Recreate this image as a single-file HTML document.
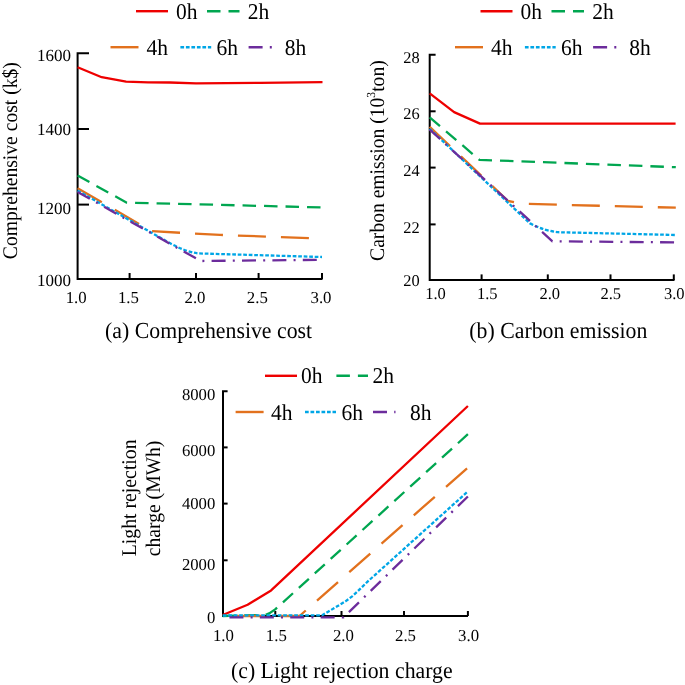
<!DOCTYPE html>
<html><head><meta charset="utf-8"><style>
html,body{margin:0;padding:0;background:#fff;width:685px;height:685px;overflow:hidden}
svg{display:block;will-change:transform}
text{font-family:"Liberation Serif",serif;fill:#000;text-rendering:geometricPrecision}
</style></head><body>
<svg width="685" height="685" viewBox="0 0 685 685">
<rect width="685" height="685" fill="#fff"/>
<path d="M89,53.2 H77.6 V279 H322.5" fill="none" stroke="#000" stroke-width="2"/>
<path d="M77.6,129 H89" stroke="#000" stroke-width="2"/>
<path d="M77.6,204.6 H89" stroke="#000" stroke-width="2"/>
<path d="M129.6,279 V273" stroke="#000" stroke-width="2"/>
<path d="M196,279 V273" stroke="#000" stroke-width="2"/>
<path d="M258.6,279 V273" stroke="#000" stroke-width="2"/>
<path d="M322,279 V273" stroke="#000" stroke-width="2"/>
<text x="71.0" y="61.0" font-size="17" text-anchor="end" >1600</text>
<text x="71.0" y="135.2" font-size="17" text-anchor="end" >1400</text>
<text x="71.0" y="213.9" font-size="17" text-anchor="end" >1200</text>
<text x="71.0" y="286.3" font-size="17" text-anchor="end" >1000</text>
<text x="76.2" y="302.7" font-size="16.8" text-anchor="middle" >1.0</text>
<text x="128.4" y="302.7" font-size="16.8" text-anchor="middle" >1.5</text>
<text x="195.0" y="302.7" font-size="16.8" text-anchor="middle" >2.0</text>
<text x="257.3" y="302.7" font-size="16.8" text-anchor="middle" >2.5</text>
<text x="321.0" y="302.7" font-size="16.8" text-anchor="middle" >3.0</text>
<text transform="translate(16.6,160.7) rotate(-90) scale(1,1.06)" font-size="19.6" text-anchor="middle">Comprehensive cost (k$)</text>
<text transform="translate(208.6,337.8) scale(1.0,1.05)" font-size="21.8" text-anchor="middle" >(a) Comprehensive cost</text>
<path d="M77.6,67.3 L101.7,77.2 L126.1,81.6 L148,82.3 L170,82.5 L196,83.3 L260,82.8 L322.5,82.1" fill="none" stroke="#ee0000" stroke-width="2.3" stroke-linejoin="round"/>
<path d="M77.6,175.5 L126.8,202.7 L200,204.4 L322,207.4" fill="none" stroke="#00a650" stroke-width="2.3" stroke-linejoin="round" stroke-dasharray="13.5 8"/>
<path d="M77.6,188.3 L151.6,231.2 L220,234.9 L322,238.6" fill="none" stroke="#e2711d" stroke-width="2.3" stroke-linejoin="round" stroke-dasharray="28 15"/>
<path d="M77.6,190.6 L170.2,243.3 Q185,251.5 197.8,253.4 L322,257" fill="none" stroke="#00a6e6" stroke-width="2.3" stroke-linejoin="round" stroke-dasharray="3.7 1.8"/>
<path d="M77.6,192 L200.8,261.0 L322,259.8" fill="none" stroke="#6c2c9c" stroke-width="2.3" stroke-linejoin="round" stroke-dasharray="14 7.2 2 7.2"/>
<path d="M136,11.2 H168" fill="none" stroke="#ee0000" stroke-width="2.4" stroke-linejoin="round"/>
<text transform="translate(176.0,18.7) scale(1.0,1.05)" font-size="21.5" text-anchor="start" >0h</text>
<path d="M207,11.2 H239.5" fill="none" stroke="#00a650" stroke-width="2.4" stroke-linejoin="round" stroke-dasharray="13.5 8"/>
<text transform="translate(247.8,18.7) scale(1.0,1.05)" font-size="21.5" text-anchor="start" >2h</text>
<path d="M110.5,47.2 H140.5" fill="none" stroke="#e2711d" stroke-width="2.4" stroke-linejoin="round" stroke-dasharray="28 15"/>
<text transform="translate(146.6,54.7) scale(1.0,1.05)" font-size="21.5" text-anchor="start" >4h</text>
<path d="M180.4,47.2 H211.2" fill="none" stroke="#00a6e6" stroke-width="2.4" stroke-linejoin="round" stroke-dasharray="3.7 1.8"/>
<text transform="translate(216.4,54.7) scale(1.0,1.05)" font-size="21.5" text-anchor="start" >6h</text>
<path d="M248.6,47.2 H272" fill="none" stroke="#6c2c9c" stroke-width="2.4" stroke-linejoin="round" stroke-dasharray="14 7.2 2 7.2"/>
<text transform="translate(284.79999999999995,54.7) scale(1.0,1.05)" font-size="21.5" text-anchor="start" >8h</text>
<path d="M435.6,54.8 H429.7 V280 H674.5" fill="none" stroke="#000" stroke-width="2"/>
<path d="M429.7,111.3 H435.6" stroke="#000" stroke-width="2"/>
<path d="M429.7,167.6 H435.6" stroke="#000" stroke-width="2"/>
<path d="M429.7,224.4 H435.6" stroke="#000" stroke-width="2"/>
<path d="M481.6,280 V274.4" stroke="#000" stroke-width="2"/>
<path d="M547.8,280 V274.4" stroke="#000" stroke-width="2"/>
<path d="M610.5,280 V274.4" stroke="#000" stroke-width="2"/>
<path d="M673.8,280 V274.4" stroke="#000" stroke-width="2"/>
<text x="419.6" y="63.2" font-size="16.4" text-anchor="end" >28</text>
<text x="419.6" y="118.8" font-size="16.4" text-anchor="end" >26</text>
<text x="419.6" y="175.8" font-size="16.4" text-anchor="end" >24</text>
<text x="419.6" y="233" font-size="16.4" text-anchor="end" >22</text>
<text x="419.6" y="285.8" font-size="16.4" text-anchor="end" >20</text>
<text x="435.5" y="298.8" font-size="16.5" text-anchor="middle" >1.0</text>
<text x="487.3" y="298.8" font-size="16.5" text-anchor="middle" >1.5</text>
<text x="549.7" y="298.8" font-size="16.5" text-anchor="middle" >2.0</text>
<text x="610.7" y="298.8" font-size="16.5" text-anchor="middle" >2.5</text>
<text x="674.2" y="298.8" font-size="16.5" text-anchor="middle" >3.0</text>
<text transform="translate(384.1,160.6) rotate(-90) scale(1,1.06)" font-size="19.6" text-anchor="middle">Carbon emission (10<tspan font-size="11.6" dy="-8.8">3</tspan><tspan dy="8.8">ton)</tspan></text>
<text transform="translate(558.3,337.8) scale(1.0,1.05)" font-size="21.8" text-anchor="middle" >(b) Carbon emission</text>
<path d="M429.7,93.3 L454.1,112.1 L480,123.6 L675.6,123.7" fill="none" stroke="#ee0000" stroke-width="2.3" stroke-linejoin="round"/>
<path d="M429.7,117.3 L479.4,159.8 L675.8,167.2" fill="none" stroke="#00a650" stroke-width="2.3" stroke-linejoin="round" stroke-dasharray="13.5 8"/>
<path d="M429.7,126.8 L508,201 L522,203.8 L675.8,207.7" fill="none" stroke="#e2711d" stroke-width="2.3" stroke-linejoin="round" stroke-dasharray="28 15"/>
<path d="M429.7,128.8 L530,223.4 Q545,231 558,232.2 L675.8,235" fill="none" stroke="#00a6e6" stroke-width="2.3" stroke-linejoin="round" stroke-dasharray="3.7 1.8"/>
<path d="M429.7,129.6 L552.4,241.3 L675.8,242.4" fill="none" stroke="#6c2c9c" stroke-width="2.3" stroke-linejoin="round" stroke-dasharray="14 7.2 2 7.2"/>
<path d="M480.5,11.2 H512.5" fill="none" stroke="#ee0000" stroke-width="2.4" stroke-linejoin="round"/>
<text transform="translate(520.5,18.7) scale(1.0,1.05)" font-size="21.5" text-anchor="start" >0h</text>
<path d="M551.5,11.2 H584.0" fill="none" stroke="#00a650" stroke-width="2.4" stroke-linejoin="round" stroke-dasharray="13.5 8"/>
<text transform="translate(592.3,18.7) scale(1.0,1.05)" font-size="21.5" text-anchor="start" >2h</text>
<path d="M455.0,47.2 H485.0" fill="none" stroke="#e2711d" stroke-width="2.4" stroke-linejoin="round" stroke-dasharray="28 15"/>
<text transform="translate(491.1,54.7) scale(1.0,1.05)" font-size="21.5" text-anchor="start" >4h</text>
<path d="M524.9,47.2 H555.7" fill="none" stroke="#00a6e6" stroke-width="2.4" stroke-linejoin="round" stroke-dasharray="3.7 1.8"/>
<text transform="translate(560.9,54.7) scale(1.0,1.05)" font-size="21.5" text-anchor="start" >6h</text>
<path d="M593.1,47.2 H616.5" fill="none" stroke="#6c2c9c" stroke-width="2.4" stroke-linejoin="round" stroke-dasharray="14 7.2 2 7.2"/>
<text transform="translate(629.3,54.7) scale(1.0,1.05)" font-size="21.5" text-anchor="start" >8h</text>
<path d="M227.6,391.2 H223 V616 H468" fill="none" stroke="#000" stroke-width="2"/>
<path d="M223,447.4 H227.6" stroke="#000" stroke-width="2"/>
<path d="M223,503.6 H227.6" stroke="#000" stroke-width="2"/>
<path d="M223,560.3 H227.6" stroke="#000" stroke-width="2"/>
<path d="M275.3,616 V611" stroke="#000" stroke-width="2"/>
<path d="M341.5,616 V611" stroke="#000" stroke-width="2"/>
<path d="M404,616 V611" stroke="#000" stroke-width="2"/>
<path d="M467.9,616 V611" stroke="#000" stroke-width="2"/>
<text x="215.3" y="400.2" font-size="16.7" text-anchor="end" >8000</text>
<text x="215.3" y="455.7" font-size="16.7" text-anchor="end" >6000</text>
<text x="215.3" y="508.6" font-size="16.7" text-anchor="end" >4000</text>
<text x="215.3" y="569.8" font-size="16.7" text-anchor="end" >2000</text>
<text x="215.3" y="623.0" font-size="16.7" text-anchor="end" >0</text>
<text x="223.4" y="640.5" font-size="16.8" text-anchor="middle" >1.0</text>
<text x="276.3" y="640.5" font-size="16.8" text-anchor="middle" >1.5</text>
<text x="343.4" y="640.5" font-size="16.8" text-anchor="middle" >2.0</text>
<text x="405.5" y="640.5" font-size="16.8" text-anchor="middle" >2.5</text>
<text x="468.6" y="640.5" font-size="16.8" text-anchor="middle" >3.0</text>
<text transform="translate(136,497.8) rotate(-90) scale(1,1.06)" font-size="19.75" text-anchor="middle">Light rejection</text>
<text transform="translate(159.7,498.4) rotate(-90) scale(1,1.06)" font-size="19.6" text-anchor="middle">charge (MWh)</text>
<text transform="translate(341.8,677.6) scale(1.0,1.05)" font-size="21.8" text-anchor="middle" >(c) Light rejection charge</text>
<path d="M222.7,615 L247.6,604.7 L271.1,590.4 L467.9,406" fill="none" stroke="#ee0000" stroke-width="2.3" stroke-linejoin="round"/>
<path d="M222.7,616 L265,615 Q270,613.5 275.2,609.4 L467.9,434.2" fill="none" stroke="#00a650" stroke-width="2.3" stroke-linejoin="round" stroke-dasharray="13.5 8"/>
<path d="M222.7,616 L299.5,616 L467.9,467.6" fill="none" stroke="#e2711d" stroke-width="2.3" stroke-linejoin="round" stroke-dasharray="28 15" stroke-dashoffset="28.87"/>
<path d="M222.7,615.5 L321.9,615.4 L328.9,611.2 L336.8,606.6 L345.5,601.3 L352.5,596.1 L358,591 L367.6,581.6 L467.9,491.4" fill="none" stroke="#00a6e6" stroke-width="2.3" stroke-linejoin="round" stroke-dasharray="3.7 1.8"/>
<path d="M222.7,617.3 L343.5,617.3 L467.9,496.5" fill="none" stroke="#6c2c9c" stroke-width="2.3" stroke-linejoin="round" stroke-dasharray="14 7.2 2 7.2" stroke-dashoffset="23.67"/>
<path d="M265,375.8 H297" fill="none" stroke="#ee0000" stroke-width="2.4" stroke-linejoin="round"/>
<text transform="translate(301.0,383.3) scale(1.0,1.05)" font-size="21.5" text-anchor="start" >0h</text>
<path d="M336.4,375.8 H368" fill="none" stroke="#00a650" stroke-width="2.4" stroke-linejoin="round" stroke-dasharray="13.5 8"/>
<text transform="translate(372.4,383.3) scale(1.0,1.05)" font-size="21.5" text-anchor="start" >2h</text>
<path d="M235.6,412 H264" fill="none" stroke="#e2711d" stroke-width="2.4" stroke-linejoin="round" stroke-dasharray="28 15"/>
<text transform="translate(271.0,419.9) scale(1.0,1.05)" font-size="21.5" text-anchor="start" >4h</text>
<path d="M305,412 H336" fill="none" stroke="#00a6e6" stroke-width="2.4" stroke-linejoin="round" stroke-dasharray="3.7 1.8"/>
<text transform="translate(341.4,419.9) scale(1.0,1.05)" font-size="21.5" text-anchor="start" >6h</text>
<path d="M373,412 H395.5" fill="none" stroke="#6c2c9c" stroke-width="2.4" stroke-linejoin="round" stroke-dasharray="14 7.2 2 7.2"/>
<text transform="translate(409.9,419.9) scale(1.0,1.05)" font-size="21.5" text-anchor="start" >8h</text>
</svg>
</body></html>
